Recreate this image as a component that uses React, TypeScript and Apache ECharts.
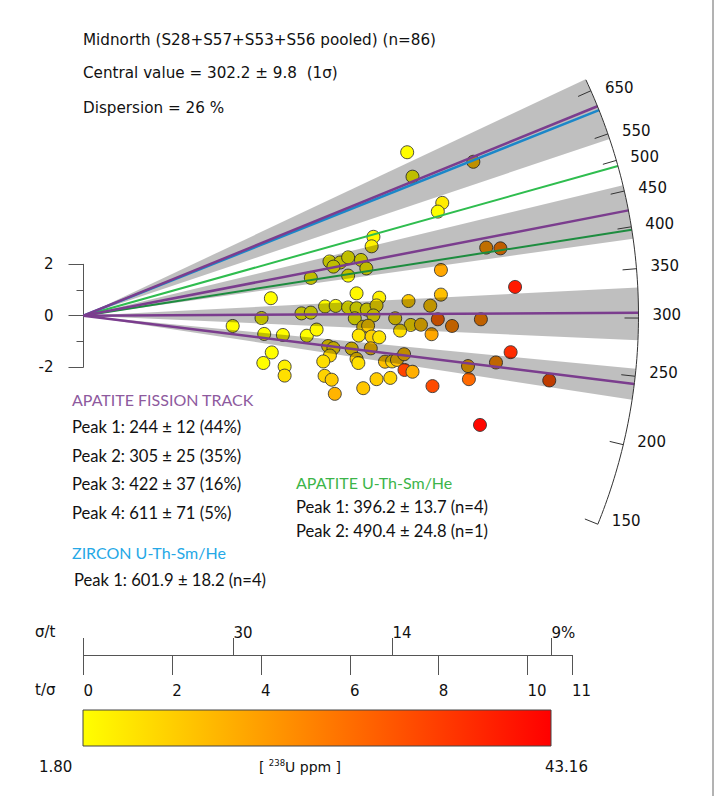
import React, { useEffect, useRef } from 'react';
import * as echarts from 'echarts';

// Single-grain ages: precision (t/σ), standardised estimate, 238U (ppm)
const precision = [
  7.29, 7.41, 8.78, 8.08, 7.98, 6.53, 6.49, 5.54, 5.78, 5.96,
  6.25, 6.37, 5.63, 5.96, 5.12, 6.15, 6.66, 4.22, 8.05, 8.05,
  9.07, 9.39, 9.72, 3.36, 4.01, 4.91, 5.12, 5.44, 5.68, 5.96,
  6.15, 6.38, 6.60, 6.53, 6.11, 6.30, 6.41, 4.07, 4.49, 5.03,
  5.25, 6.20, 6.49, 6.66, 4.24, 4.05, 4.53, 4.53, 5.51, 5.63,
  5.55, 5.40, 6.04, 6.15, 6.19, 6.47, 6.79, 6.95, 7.06, 5.43,
  5.59, 5.66, 6.30, 6.60, 6.91, 7.32, 7.81, 7.02, 7.37, 7.60,
  7.98, 8.30, 8.95, 7.13, 7.84, 7.22, 7.23, 7.41, 7.86, 8.66,
  8.68, 9.29, 9.62, 10.49, 8.93,
];
const standardised = [
  6.36, 5.41, 5.99, 4.39, 4.05, 3.07, 2.70, 2.11, 2.07, 2.27,
  2.17, 1.84, 1.91, 1.56, 1.47, 0.87, 0.70, 0.68, 1.78, 0.82,
  2.65, 2.62, 1.12, -0.40, -0.09, 0.09, 0.12, 0.36, 0.38, 0.32,
  0.29, 0.24, 0.40, 0.01, -0.10, -0.43, -0.39, -0.71, -0.75, -0.78,
  -0.54, -0.77, -0.81, -0.84, -1.43, -1.84, -1.98, -2.33, -1.18, -1.26,
  -1.55, -1.78, -1.28, -1.68, -1.84, -1.27, -1.79, -1.78, -1.72, -2.34,
  -2.49, -3.04, -2.82, -2.47, -2.42, 0.57, 0.39, -0.10, -0.36, -0.35,
  -0.14, -0.40, -0.14, -0.58, -0.72, -1.50, -2.11, -2.18, -2.74, -1.96,
  -2.47, -1.82, -1.42, -2.52, -4.25,
];
const uranium = [
  2, 2, 12, 5, 2, 3, 4, 2, 2, 2,
  2, 3, 2, 2, 2, 3, 4, 2, 16, 12,
  19, 23, 39, 2, 2, 2, 2, 2, 2, 2,
  2, 3, 6, 4, 2, 8, 10, 2, 2, 2,
  3, 6, 9, 6, 2, 2, 4, 7, 7, 7,
  8, 7, 8, 10, 7, 12, 12, 9, 12, 9,
  10, 14, 11, 10, 9, 10, 11, 7, 7, 12,
  27, 22, 22, 7, 16, 13, 32, 15, 31, 16,
  26, 21, 36, 30, 42,
];

const sampleName = 'Midnorth (S28+S57+S53+S56 pooled)';
const grainCount = 86;
const centralValue = 302.2;
const centralError = 9.8;
const dispersion = 26;

// Apatite fission track mixture peaks
const aftPeaks = [244, 305, 422, 611];
const aftErrors = [12, 25, 37, 71];
const aftShares = [44, 35, 16, 5];

// (U-Th-Sm)/He peaks
const zirconPeaks = [601.9];
const zirconErrors = [18.2];
const zirconN = [4];
const apatiteHePeaks = [396.2, 490.4];
const apatiteHeErrors = [13.7, 24.8];
const apatiteHeN = [4, 1];

// Axis ticks
const ageTicks = [150, 200, 250, 300, 350, 400, 450, 500, 550, 650];
const precisionTicks = [0, 2, 4, 6, 8, 10, 11];
const relErrTickAt = [3.38, 6.96, 10.54];
const relErrLabels = ['30', '14', '9%'];
const uRange = [1.8, 43.16];

const FONT = '"DejaVu Sans", Verdana, sans-serif';
const FONT_B = 'Lato, "Open Sans", sans-serif';
const PURPLE = '#7b3d8e';
const BLUE = '#1b87c9';
const GREEN_LIGHT = '#2fbd4f';
const GREEN_DARK = '#1d8c3f';
const RAMP = ['#ffff00', '#ff0000'];

const ARC_RADIUS = 12.5; // in t/σ units
const PX_X = 44.4;
const PX_Y = 25.7;
const ORIGIN_X = 83.5;
const ORIGIN_Y = 315.7;

function renderRadial(_params: any, api: any) {
  const o = api.coord([0, 0]);
  const sx = api.size([1, 0])[0];
  const sy = api.size([0, 1])[1];
  const R = ARC_RADIUS * sx;
  const at = (age: number, r: number) => {
    const k = Math.log(age / centralValue);
    const dx = sx;
    const dy = -sy * k;
    const L = Math.hypot(dx, dy);
    return [o[0] + (dx / L) * r, o[1] + (dy / L) * r];
  };
  const children: any[] = [];

  aftPeaks.forEach((p, i) => {
    const lo = p - aftErrors[i];
    const hi = p + aftErrors[i];
    const pts: number[][] = [o];
    for (let j = 0; j <= 20; j++) pts.push(at(lo * Math.pow(hi / lo, j / 20), R));
    children.push({
      type: 'polygon',
      shape: { points: pts },
      style: { fill: 'rgba(0,0,0,0.25)' },
    });
  });

  const ray = (age: number, color: string, w: number) => {
    const e = at(age, R);
    children.push({
      type: 'line',
      shape: { x1: o[0], y1: o[1], x2: e[0], y2: e[1] },
      style: { stroke: color, lineWidth: w },
    });
  };
  ray(apatiteHePeaks[0], GREEN_DARK, 2);
  ray(apatiteHePeaks[1], GREEN_LIGHT, 2);
  ray(zirconPeaks[0], BLUE, 2.5);
  aftPeaks.forEach((p) => ray(p, PURPLE, 2.5));

  const arcPts: number[][] = [];
  const aTop = 680;
  const aBot = 150;
  for (let j = 0; j <= 80; j++) arcPts.push(at(aTop * Math.pow(aBot / aTop, j / 80), R));
  children.push({
    type: 'polyline',
    shape: { points: arcPts },
    style: { stroke: '#333', lineWidth: 1, fill: 'none' },
  });

  ageTicks.forEach((a) => {
    const p0 = at(a, R - 14);
    const p1 = at(a, R);
    children.push({
      type: 'line',
      shape: { x1: p0[0], y1: p0[1], x2: p1[0], y2: p1[1] },
      style: { stroke: '#333', lineWidth: 1 },
    });
    children.push({
      type: 'text',
      x: p1[0] + 14,
      y: p1[1] - 3,
      style: {
        text: String(a),
        fill: '#111',
        font: `15px ${FONT}`,
        align: 'left',
        verticalAlign: 'middle',
      },
    });
  });

  return { type: 'group', children };
}

function label(x: number, y: number, text: string, opts: any = {}) {
  return {
    type: 'text',
    x,
    y,
    silent: true,
    style: {
      text,
      fill: opts.fill || '#111',
      font: opts.font || `15.2px ${FONT}`,
      align: opts.align || 'left',
      textAlign: opts.align || 'left',
      verticalAlign: 'middle',
      textVerticalAlign: 'middle',
      ...(opts.rich ? { rich: opts.rich } : {}),
    },
  };
}

function buildOption(): any {
  const points = precision.map((x, i) => [x, standardised[i], uranium[i]]);
  const bodyFont = `16.6px ${FONT_B}`;

  const graphics: any[] = [
    label(83, 40, `${sampleName} (n=${grainCount})`),
    label(83, 73, `Central value = ${centralValue} ± ${centralError}  (1σ)`),
    label(83, 108, `Dispersion = ${dispersion} %`),
    label(72, 399, 'APATITE FISSION TRACK', { fill: '#8e5a9e', font: `16px ${FONT_B}` }),
    ...aftPeaks.map((p, i) =>
      label(72, 427 + i * 28.7, `Peak ${i + 1}: ${p} ± ${aftErrors[i]} (${aftShares[i]}%)`, {
        font: bodyFont,
      })
    ),
    label(72, 552, 'ZIRCON U-Th-Sm/He', { fill: '#25a8e6', font: `16px ${FONT_B}` }),
    ...zirconPeaks.map((p, i) =>
      label(74, 580, `Peak ${i + 1}: ${p} ± ${zirconErrors[i]} (n=${zirconN[i]})`, {
        font: bodyFont,
      })
    ),
    label(296, 482, 'APATITE U-Th-Sm/He', { fill: '#3cb54a', font: `16px ${FONT_B}` }),
    ...apatiteHePeaks.map((p, i) =>
      label(296, 507 + i * 24, `Peak ${i + 1}: ${p} ± ${apatiteHeErrors[i]} (n=${apatiteHeN[i]})`, {
        font: bodyFont,
      })
    ),
    label(35, 632, 'σ/t', { font: `15px ${FONT}` }),
    label(35, 690, 't/σ', { font: `15px ${FONT}` }),
    {
      type: 'rect',
      shape: { x: 83, y: 710, width: 468, height: 36 },
      style: {
        fill: new echarts.graphic.LinearGradient(0, 0, 1, 0, [
          { offset: 0, color: RAMP[0] },
          { offset: 1, color: RAMP[1] },
        ]),
        stroke: '#444',
        lineWidth: 1,
      },
    },
    label(39, 767, uRange[0].toFixed(2), { font: `15px ${FONT}` }),
    label(545, 767, uRange[1].toFixed(2), { font: `15px ${FONT}` }),
    label(300, 767, '[ {s|238}U ppm ]', {
      align: 'center',
      font: `14px ${FONT}`,
      rich: {
        s: { fontSize: 8.5, verticalAlign: 'top', lineHeight: 17, fontFamily: FONT, fill: '#111' },
      },
    }),
    {
      type: 'line',
      shape: { x1: 713, y1: 0, x2: 713, y2: 796 },
      style: { stroke: '#666', lineWidth: 1 },
    },
  ];

  return {
    animation: false,
    backgroundColor: '#ffffff',
    textStyle: { fontFamily: FONT },
    grid: [
      { left: ORIGIN_X, top: ORIGIN_Y - 10 * PX_Y, width: 14 * PX_X, height: 20 * PX_Y },
      { left: ORIGIN_X, top: ORIGIN_Y - 2 * PX_Y, width: 1, height: 4 * PX_Y },
      { left: ORIGIN_X, top: 655, width: 11 * PX_X, height: 0 },
    ],
    xAxis: [
      { gridIndex: 0, type: 'value', min: 0, max: 14, show: false },
      { gridIndex: 1, type: 'value', min: 0, max: 1, show: false },
      {
        gridIndex: 2,
        type: 'value',
        position: 'bottom',
        min: 0,
        max: 11,
        axisLine: { show: true, lineStyle: { color: '#555', width: 1 } },
        axisTick: { show: true, customValues: precisionTicks, length: 20, lineStyle: { color: '#555' } },
        axisLabel: {
          customValues: precisionTicks,
          align: 'left',
          margin: 28,
          fontSize: 15,
          color: '#111',
          fontFamily: FONT,
        },
        splitLine: { show: false },
      },
      {
        gridIndex: 2,
        type: 'value',
        position: 'top',
        min: 0,
        max: 11,
        axisLine: { show: false },
        axisTick: { show: true, customValues: [0, ...relErrTickAt], length: 17, lineStyle: { color: '#555' } },
        axisLabel: {
          customValues: relErrTickAt,
          formatter: (v: number) => {
            const i = relErrTickAt.findIndex((t) => Math.abs(t - v) < 1e-6);
            return i >= 0 ? relErrLabels[i] : '';
          },
          align: 'left',
          margin: 15,
          fontSize: 15,
          color: '#111',
          fontFamily: FONT,
        },
        splitLine: { show: false },
      },
    ],
    yAxis: [
      { gridIndex: 0, type: 'value', min: -10, max: 10, show: false },
      {
        gridIndex: 1,
        type: 'value',
        min: -2,
        max: 2,
        interval: 2,
        axisLine: { show: true, lineStyle: { color: '#555', width: 1 } },
        axisTick: { show: true, length: 15, lineStyle: { color: '#555' } },
        minorTick: { show: true, splitNumber: 2, length: 7, lineStyle: { color: '#555' } },
        axisLabel: { fontSize: 15, color: '#111', margin: 30, fontFamily: FONT },
        splitLine: { show: false },
        minorSplitLine: { show: false },
      },
      { gridIndex: 2, type: 'value', min: 0, max: 1, show: false },
    ],
    visualMap: {
      type: 'continuous',
      show: false,
      seriesIndex: 0,
      dimension: 2,
      min: uRange[0],
      max: uRange[1],
      inRange: { color: RAMP },
    },
    series: [
      {
        type: 'scatter',
        xAxisIndex: 0,
        yAxisIndex: 0,
        data: points,
        symbolSize: 13,
        itemStyle: { borderColor: '#3a3a3a', borderWidth: 0.9, opacity: 1 },
        z: 2,
        silent: true,
      },
      {
        type: 'custom',
        xAxisIndex: 0,
        yAxisIndex: 0,
        data: [[0, 0]],
        renderItem: renderRadial,
        clip: false,
        silent: true,
        z: 5,
      },
    ],
    graphic: graphics,
  };
}

export default function App() {
  const ref = useRef<HTMLDivElement>(null);
  useEffect(() => {
    if (!ref.current) return;
    const chart = echarts.init(ref.current, null, { renderer: 'svg' });
    chart.setOption(buildOption());
    return () => chart.dispose();
  }, []);
  return (
    <div
      ref={ref}
      style={{ position: 'fixed', left: 0, top: 0, width: 718, height: 796, background: '#fff' }}
    />
  );
}
